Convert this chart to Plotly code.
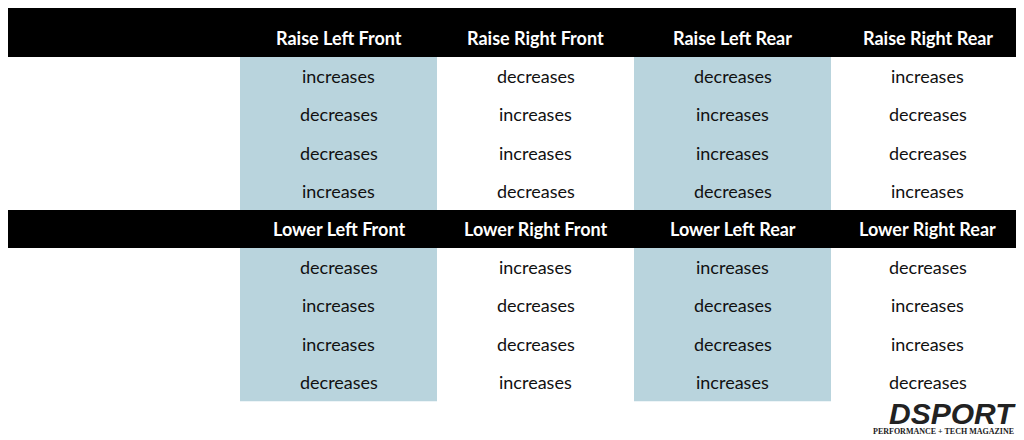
import plotly.graph_objects as go

title = "CORNER WEIGHT ADJUSTMENT CHART"
row_labels = ["Left Front Corner Weight", "Right Front Corner Weight",
              "Left Rear Corner Weight", "Right Rear Corner Weight"]
raise_cols = ["Raise Left Front", "Raise Right Front", "Raise Left Rear", "Raise Right Rear"]
lower_cols = ["Lower Left Front", "Lower Right Front", "Lower Left Rear", "Lower Right Rear"]
I, D = "increases", "decreases"
raise_vals = [[I, D, D, I], [D, I, I, D], [D, I, I, D], [I, D, D, I]]
lower_vals = [[D, I, I, D], [I, D, D, I], [I, D, D, I], [D, I, I, D]]

col_edges = [0, 240, 437, 634, 831, 1024]
row_h = 38.3
blocks = [(0, 57, raise_cols, raise_vals), (210, 248, lower_cols, lower_vals)]
BLUE = "#b9d4dd"
FONT = "Lato"
OFF = 8  # page body margin compensation

shapes, ann = [], []
for band_top, rows_top, cols, vals in blocks:
    shapes.append(dict(type="rect", x0=-20, x1=1040, y0=band_top - (20 if band_top == 0 else 0), y1=rows_top,
                       fillcolor="black", line_width=0, layer="below"))
    hy = rows_top - 19
    for j, c in enumerate(cols):
        cx = (col_edges[j + 1] + col_edges[j + 2]) / 2
        ann.append(dict(x=cx, y=hy, text=f"<b>{c}</b>", showarrow=False,
                        font=dict(family=FONT, size=18, color="white")))
    for j in (0, 2):
        shapes.append(dict(type="rect", x0=col_edges[j + 1], x1=col_edges[j + 2],
                           y0=rows_top, y1=rows_top + row_h * len(row_labels),
                           fillcolor=BLUE, line_width=0, layer="below"))
    for i, lab in enumerate(row_labels):
        cy = rows_top + row_h * (i + 0.5)
        ann.append(dict(x=6, y=cy, text=f"<b>{lab}</b>", showarrow=False, xanchor="left",
                        font=dict(family=FONT, size=18.5, color="#111")))
        for j, v in enumerate(vals[i]):
            cx = (col_edges[j + 1] + col_edges[j + 2]) / 2
            ann.append(dict(x=cx, y=cy, text=v, showarrow=False,
                            font=dict(family=FONT, size=18, color="#111")))

ann.append(dict(x=6, y=14, text=f"<b>{title}</b>", showarrow=False, xanchor="left",
                font=dict(family=FONT, size=18, color="#f5e614")))
ann.append(dict(x=1018, y=413, text="<b><i>DSPORT</i></b>", showarrow=False, xanchor="right",
                font=dict(family="Liberation Sans", size=30, color="#222")))
ann.append(dict(x=1016, y=431, text="<b>PERFORMANCE + TECH MAGAZINE</b>", showarrow=False,
                xanchor="right", font=dict(family="Liberation Sans Narrow", size=8, color="#222")))

fig = go.Figure()
fig.update_layout(width=1024, height=440, margin=dict(l=0, r=0, t=0, b=0),
                  paper_bgcolor="white", plot_bgcolor="white", shapes=shapes, annotations=ann,
                  xaxis=dict(range=[OFF, 1024 + OFF], visible=False, fixedrange=True),
                  yaxis=dict(range=[440 + OFF, OFF], visible=False, fixedrange=True),
                  showlegend=False)
fig.write_html("out.html", config={"displayModeBar": False})
